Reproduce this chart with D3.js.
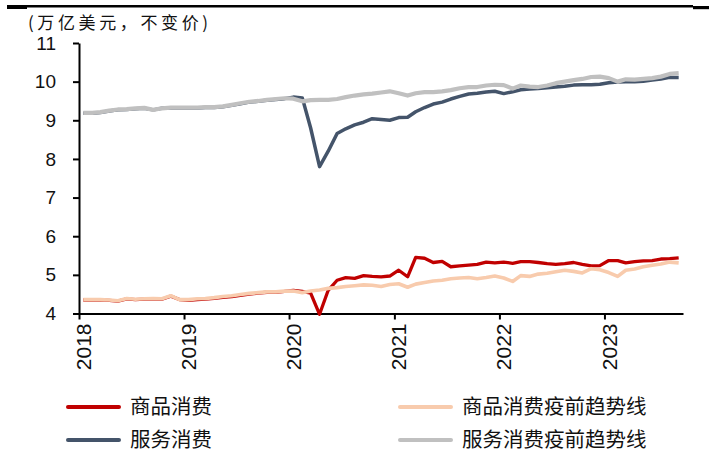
<!DOCTYPE html>
<html><head><meta charset="utf-8">
<script src="https://cdn.jsdelivr.net/npm/d3@7"></script>
<style>
html,body{margin:0;padding:0;background:#fff;}
svg{display:block;}
</style></head>
<body>
<svg id="chart" width="709" height="453"></svg>
<script>
const startMonth = "2018-01";
const yTicks = [4, 5, 6, 7, 8, 9, 10, 11];
const xTickYears = ["2018", "2019", "2020", "2021", "2022", "2023"];
const unitLabel = "(万亿美元，不变价)";
const seriesNames = ["商品消费", "服务消费", "商品消费疫前趋势线", "服务消费疫前趋势线"];

const goods = [
  4.35, 4.35, 4.35, 4.34, 4.32, 4.38, 4.36, 4.37, 4.38, 4.37, 4.45, 4.36,
  4.34, 4.36, 4.37, 4.39, 4.42, 4.44, 4.47, 4.50, 4.53, 4.55, 4.55, 4.57,
  4.60, 4.57, 4.53, 3.98, 4.60, 4.86, 4.93, 4.91, 4.98, 4.96, 4.95, 4.97,
  5.12, 4.95, 5.45, 5.43, 5.32, 5.35, 5.21, 5.23, 5.25, 5.27, 5.33, 5.31,
  5.33, 5.30, 5.34, 5.34, 5.32, 5.29, 5.27, 5.29, 5.32, 5.27, 5.23, 5.24,
  5.37, 5.37, 5.31, 5.34, 5.36, 5.37, 5.41, 5.42, 5.44
];
const services = [
  9.18, 9.18, 9.20, 9.24, 9.27, 9.28, 9.30, 9.31, 9.27, 9.31, 9.32, 9.32,
  9.32, 9.32, 9.33, 9.33, 9.35, 9.39, 9.43, 9.47, 9.49, 9.52, 9.54, 9.56,
  9.60, 9.58, 8.80, 7.80, 8.20, 8.66, 8.78, 8.88, 8.95, 9.04, 9.02, 9.00,
  9.07, 9.08, 9.22, 9.33, 9.42, 9.47, 9.55, 9.62, 9.68, 9.70, 9.73, 9.75,
  9.69, 9.74, 9.79, 9.81, 9.82, 9.84, 9.86, 9.88, 9.91, 9.92, 9.92, 9.93,
  9.97, 9.99, 10.00, 10.00, 10.01, 10.04, 10.07, 10.11, 10.11
];
const goodsTrend = [
  4.36, 4.36, 4.36, 4.35, 4.33, 4.39, 4.37, 4.38, 4.39, 4.38, 4.46, 4.36,
  4.36, 4.38, 4.39, 4.41, 4.44, 4.46, 4.49, 4.52, 4.54, 4.56, 4.56, 4.58,
  4.58, 4.54, 4.58, 4.61, 4.65, 4.67, 4.70, 4.72, 4.74, 4.73, 4.70, 4.75,
  4.77, 4.68, 4.76, 4.80, 4.84, 4.86, 4.90, 4.92, 4.93, 4.90, 4.93, 4.97,
  4.92, 4.83, 4.98, 4.96, 5.02, 5.04, 5.08, 5.12, 5.09, 5.05, 5.16, 5.13,
  5.06, 4.96, 5.12, 5.15, 5.21, 5.25, 5.28, 5.33, 5.31
];
const servicesTrend = [
  9.19, 9.19, 9.21, 9.25, 9.28, 9.29, 9.31, 9.32, 9.27, 9.31, 9.33, 9.33,
  9.33, 9.33, 9.34, 9.34, 9.36, 9.40, 9.44, 9.48, 9.50, 9.53, 9.55, 9.57,
  9.56, 9.49, 9.52, 9.53, 9.53, 9.55, 9.60, 9.64, 9.67, 9.69, 9.72, 9.75,
  9.70, 9.64, 9.70, 9.73, 9.73, 9.75, 9.78, 9.83, 9.86, 9.86, 9.90, 9.92,
  9.91, 9.82, 9.90, 9.87, 9.86, 9.90, 9.96, 10.00, 10.04, 10.07, 10.12, 10.13,
  10.09, 10.00, 10.06, 10.05, 10.07, 10.09, 10.13, 10.20, 10.22
];

const colors = { goods: "#C00000", services: "#44546A", goodsTrend: "#F8CBAD", servicesTrend: "#C0C0C0" };

const svg = d3.select("#chart");
const parseMonth = d3.timeParse("%Y-%m");
const start = parseMonth(startMonth);
const months = d3.timeMonth.range(start, d3.timeMonth.offset(start, goods.length));
const midMonth = d => new Date(d.getFullYear(), d.getMonth(), 16);

const x = d3.scaleTime()
  .domain([start, d3.timeMonth.offset(start, goods.length)])
  .range([79, 683]);
const y = d3.scaleLinear().domain([4, 11]).range([313.5, 43]);

// top rule
svg.append("rect").attr("x", 7).attr("y", 5).attr("width", 686).attr("height", 2.5).attr("fill", "#000");
svg.append("rect").attr("x", 7).attr("y", 5).attr("width", 20).attr("height", 4).attr("fill", "#000");
svg.append("rect").attr("x", 693).attr("y", 6).attr("width", 16).attr("height", 3.2).attr("fill", "#000");

// unit label
svg.append("text").attr("x", 28).attr("y", 29)
  .attr("font-family", "'Noto Sans CJK SC', sans-serif").attr("font-size", 17)
  .attr("textLength", 180).attr("lengthAdjust", "spacing")
  .attr("fill", "#111").text(unitLabel);

// y axis
const yAxis = d3.axisLeft(y).tickValues(yTicks).tickSize(6).tickSizeOuter(0).tickPadding(17)
  .tickFormat(d3.format("d"));
const gy = svg.append("g").attr("transform", "translate(79,0)").call(yAxis);
gy.selectAll("path,line").attr("stroke", "#000").attr("stroke-width", 2);
gy.selectAll("text").attr("font-family", "'Liberation Sans', Arial, sans-serif")
  .attr("font-size", 19).attr("fill", "#111");

// x axis
const xAxis = d3.axisBottom(x)
  .tickValues(xTickYears.map(s => d3.timeParse("%Y")(s)))
  .tickSize(6).tickSizeOuter(0).tickFormat(d3.timeFormat("%Y"));
const gx = svg.append("g").attr("transform", "translate(0,313.5)").call(xAxis);
gx.selectAll("path,line").attr("stroke", "#000").attr("stroke-width", 2);
gx.selectAll("text")
  .attr("font-family", "'Liberation Sans', Arial, sans-serif").attr("font-size", 21).attr("fill", "#111")
  .attr("transform", "rotate(-90)")
  .attr("text-anchor", "end")
  .attr("x", -10).attr("y", 0).attr("dy", "0.55em");

// lines
const line = d3.line().x((d, i) => x(midMonth(months[i]))).y(d => y(d)).curve(d3.curveLinear);
const series = [
  { key: "goods", data: goods, w: 3.3 },
  { key: "services", data: services, w: 3.5 },
  { key: "goodsTrend", data: goodsTrend, w: 3.6 },
  { key: "servicesTrend", data: servicesTrend, w: 4.2 }
];
svg.append("g").selectAll("path").data(series).join("path")
  .attr("d", s => line(s.data))
  .attr("fill", "none").attr("stroke", s => colors[s.key])
  .attr("stroke-width", s => s.w).attr("stroke-linejoin", "round").attr("stroke-linecap", "butt");

// legend
const legend = [
  { key: "goods", name: seriesNames[0], lx: 68, ly: 407 },
  { key: "services", name: seriesNames[1], lx: 68, ly: 440 },
  { key: "goodsTrend", name: seriesNames[2], lx: 400, ly: 407 },
  { key: "servicesTrend", name: seriesNames[3], lx: 400, ly: 440 }
];
const lg = svg.append("g").selectAll("g").data(legend).join("g")
  .attr("transform", d => `translate(${d.lx},${d.ly})`);
lg.append("line").attr("x1", 0).attr("x2", 51).attr("y1", 0).attr("y2", 0)
  .attr("stroke", d => colors[d.key]).attr("stroke-width", 4).attr("stroke-linecap", "round");
lg.append("text").attr("x", 62).attr("y", 0).attr("dy", "0.36em")
  .attr("font-family", "'Noto Sans CJK SC', sans-serif").attr("font-size", 20.5).attr("fill", "#111")
  .text(d => d.name);
</script>
</body></html>
